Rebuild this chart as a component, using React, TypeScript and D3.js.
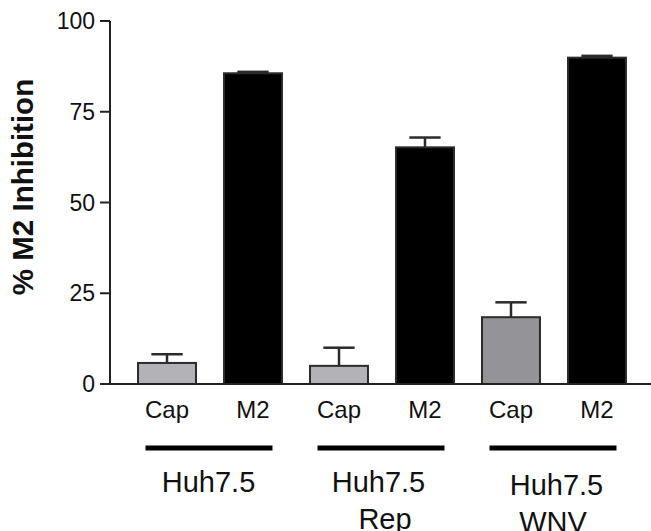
import React from "react";
import * as d3 from "d3";

// ---- data ----
const categories: string[] = ["Cap", "M2", "Cap", "M2", "Cap", "M2"];
const groupOf: number[] = [0, 0, 1, 1, 2, 2];
const groupLabels: string[][] = [["Huh7.5"], ["Huh7.5", "Rep"], ["Huh7.5", "WNV"]];
const values: number[] = [5.8, 85.6, 5.0, 65.2, 18.4, 89.9];
const errors: number[] = [2.4, 0.4, 5.0, 2.7, 4.1, 0.5];
const yTicks: number[] = [0, 25, 50, 75, 100];

// ---- styles ----
const fills = ["#b3b2b7", "#000000", "#b3b2b7", "#000000", "#949397", "#000000"];
const groupLabelDy = [0, 0, 3];
const groupLabelDx = [[-1.5], [-3.5, 3], [2.5, -1]];
const FONT = "'Liberation Sans', Arial, Helvetica, sans-serif";

const W = 651;
const H = 531;

export default function App() {
  const x = d3
    .scaleBand<number>()
    .domain(d3.range(categories.length))
    .range([110, 654])
    .paddingInner(0.326)
    .paddingOuter(0.326);
  const y = d3.scaleLinear().domain([0, 100]).range([384, 21]);
  const bw = x.bandwidth();

  const groupCenters = [0, 1, 2].map((g) => {
    const idx = d3.range(categories.length).filter((i) => groupOf[i] === g);
    return d3.mean(idx.map((i) => (x(i) as number) + bw / 2)) as number;
  });

  return (
    <svg
      width={W}
      height={H}
      viewBox={`0 0 ${W} ${H}`}
      style={{ position: "absolute", left: 0, top: 0, background: "#fff" }}
      fontFamily={FONT}
    >
      <rect x={0} y={0} width={W} height={H} fill="#fff" />
      {/* bars */}
      {values.map((v, i) => {
        const x0 = x(i) as number;
        const cx = x0 + bw / 2;
        return (
          <g key={i}>
            <line
              x1={cx}
              x2={cx}
              y1={y(v)}
              y2={y(v + errors[i])}
              stroke="#2b2b2b"
              strokeWidth={2.5}
            />
            <line
              x1={cx - bw * 0.27}
              x2={cx + bw * 0.27}
              y1={y(v + errors[i])}
              y2={y(v + errors[i])}
              stroke="#2b2b2b"
              strokeWidth={2.5}
            />
            <rect
              x={x0}
              y={y(v)}
              width={bw}
              height={y(0) - y(v)}
              fill={fills[i]}
              stroke="#2b2b2b"
              strokeWidth={2}
            />
          </g>
        );
      })}
      {/* y axis */}
      <line x1={110} x2={110} y1={y(0)} y2={y(100)} stroke="#222" strokeWidth={2} />
      {yTicks.map((t) => (
        <g key={t}>
          <line x1={100} x2={110} y1={y(t)} y2={y(t)} stroke="#222" strokeWidth={2} />
          <text
            x={95}
            y={y(t)}
            dy="0.35em"
            textAnchor="end"
            fontSize={23}
            fill="#111"
          >
            {t}
          </text>
        </g>
      ))}
      {/* x axis baseline */}
      <line x1={109} x2={654} y1={y(0)} y2={y(0)} stroke="#222" strokeWidth={2} />
      {/* category labels */}
      {categories.map((c, i) => (
        <text
          key={i}
          x={(x(i) as number) + bw / 2}
          y={418}
          textAnchor="middle"
          fontSize={24}
          fill="#111"
        >
          {c}
        </text>
      ))}
      {/* group lines and labels */}
      {groupCenters.map((gc, g) => (
        <g key={g}>
          <line
            x1={gc - 64.5}
            x2={gc + 62.5}
            y1={448}
            y2={448}
            stroke="#000"
            strokeWidth={5}
          />
          {groupLabels[g].map((lab, k) => (
            <text
              key={k}
              x={gc + groupLabelDx[g][k]}
              y={492 + groupLabelDy[g] + k * 37}
              textAnchor="middle"
              fontSize={29}
              fill="#111"
            >
              {lab}
            </text>
          ))}
        </g>
      ))}
      {/* y title */}
      <text
        transform={`translate(33,187) rotate(-90)`}
        textAnchor="middle"
        fontSize={29.5}
        fontWeight="bold"
        fill="#111"
      >
        % M2 Inhibition
      </text>
    </svg>
  );
}
